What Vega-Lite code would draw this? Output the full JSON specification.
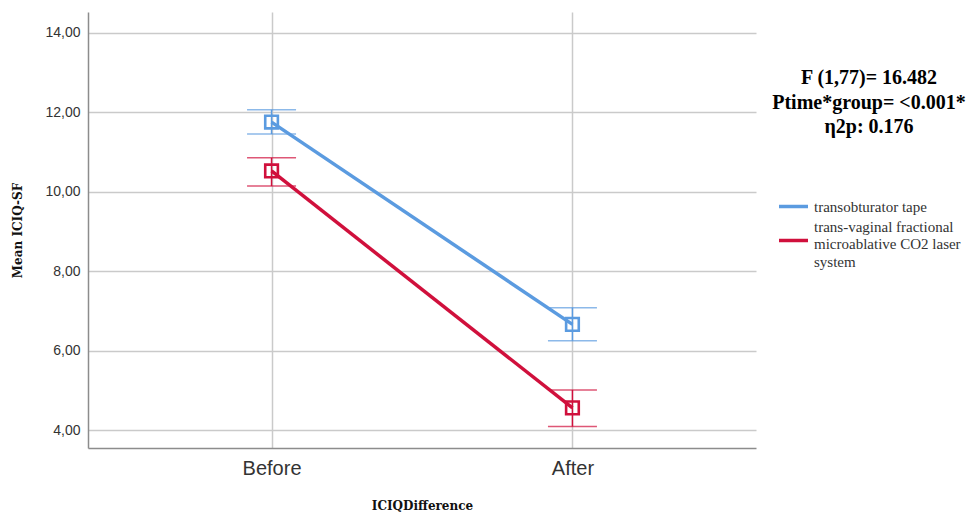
{
  "$schema": "https://vega.github.io/schema/vega-lite/v6.json",
  "width": 668,
  "height": 436,
  "autosize": {"type": "none"},
  "padding": {"left": 88, "top": 12, "right": 215, "bottom": 66},
  "background": "white",
  "data": {
    "values": [
      {"group": "transobturator tape", "time": "Before", "mean": 11.75, "lo": 11.45, "hi": 12.06},
      {"group": "transobturator tape", "time": "After", "mean": 6.66, "lo": 6.25, "hi": 7.08},
      {"group": "trans-vaginal fractional microablative CO2 laser system", "time": "Before", "mean": 10.52, "lo": 10.14, "hi": 10.85},
      {"group": "trans-vaginal fractional microablative CO2 laser system", "time": "After", "mean": 4.56, "lo": 4.09, "hi": 5.01}
    ]
  },
  "config": {
    "view": {"stroke": null},
    "axis": {
      "gridColor": "#cacaca",
      "gridWidth": 1.5,
      "domainColor": "#8c8c8c",
      "domainWidth": 1.5,
      "ticks": false,
      "labelColor": "#333333",
      "labelFont": "Liberation Sans",
      "titleFont": "DejaVu Serif",
      "titleFontWeight": "bold",
      "titleFontSize": 12,
      "titleColor": "#111111"
    },
    "legend": {
      "titleFont": "Liberation Serif",
      "titleFontSize": 20,
      "titleFontWeight": "bold",
      "labelFont": "Liberation Serif",
      "labelFontSize": 15
    }
  },
  "encoding": {
    "x": {
      "field": "time",
      "type": "nominal",
      "sort": ["Before", "After"],
      "scale": {"type": "point", "padding": 0.61},
      "axis": {
        "title": "ICIQDifference",
        "labelAngle": 0,
        "labelFontSize": 20,
        "labelPadding": 10,
        "titlePadding": 22,
        "grid": true
      }
    },
    "color": {
      "field": "group",
      "type": "nominal",
      "scale": {
        "domain": ["transobturator tape", "trans-vaginal fractional microablative CO2 laser system"],
        "range": ["#5b9be0", "#d0103c"]
      },
      "legend": {
        "orient": "none",
        "legendX": 684,
        "legendY": 56,
        "padding": 0,
        "title": ["F (1,77)= 16.482", "Ptime*group= <0.001*", "η2p: 0.176"],
        "titleFont": "Liberation Serif",
        "titleFontSize": 20,
        "titleFontWeight": "bold",
        "titleColor": "#000000",
        "titleLineHeight": 24.5,
        "titleLimit": 400,
        "titleAlign": "center",
        "titleAnchor": "middle",
        "titlePadding": 53,
        "symbolType": "stroke",
        "symbolStrokeWidth": 3.5,
        "symbolSize": 841,
        "labelFont": "Liberation Serif",
        "labelFontSize": 15,
        "labelColor": "#333333",
        "labelOffset": 4,
        "labelLimit": 300,
        "rowPadding": 4,
        "labelExpr": "datum.label == 'transobturator tape' ? datum.label : ['trans-vaginal fractional', 'microablative CO2 laser', 'system']",
        "encode": {
          "labels": {"update": {
            "lineHeight": {"value": 17.5},
            "font": {"value": "Liberation Serif"},
            "fontSize": {"value": 15},
            "dy": {"signal": "datum.value == 'transobturator tape' ? 0 : -14"}
          }},
          "title": {"update": {"font": {"value": "Liberation Serif"}, "fontSize": {"value": 20}, "fontWeight": {"value": "bold"}}}
        }
      }
    }
  },
  "layer": [
    {
      "mark": {"type": "line", "strokeWidth": 3.5},
      "encoding": {
        "y": {
          "field": "mean",
          "type": "quantitative",
          "scale": {"domain": [3.55, 14.52], "nice": false, "zero": false},
          "axis": {
            "title": "Mean ICIQ-SF",
            "values": [4, 6, 8, 10, 12, 14],
            "labelExpr": "replace(format(datum.value, '.2f'), '.', ',')",
            "labelFontSize": 14,
            "labelPadding": 8,
            "titlePadding": 20,
            "grid": true
          }
        }
      }
    },
    {
      "mark": {"type": "rule", "strokeWidth": 1.5},
      "encoding": {
        "y": {"field": "lo", "type": "quantitative"},
        "y2": {"field": "hi"}
      }
    },
    {
      "mark": {"type": "tick", "thickness": 1.5, "size": 49, "orient": "horizontal"},
      "encoding": {"y": {"field": "lo", "type": "quantitative"}}
    },
    {
      "mark": {"type": "tick", "thickness": 1.5, "size": 49, "orient": "horizontal"},
      "encoding": {"y": {"field": "hi", "type": "quantitative"}}
    },
    {
      "mark": {"type": "point", "shape": "square", "filled": false, "size": 160, "strokeWidth": 2.6, "opacity": 1},
      "encoding": {"y": {"field": "mean", "type": "quantitative"}}
    }
  ]
}
